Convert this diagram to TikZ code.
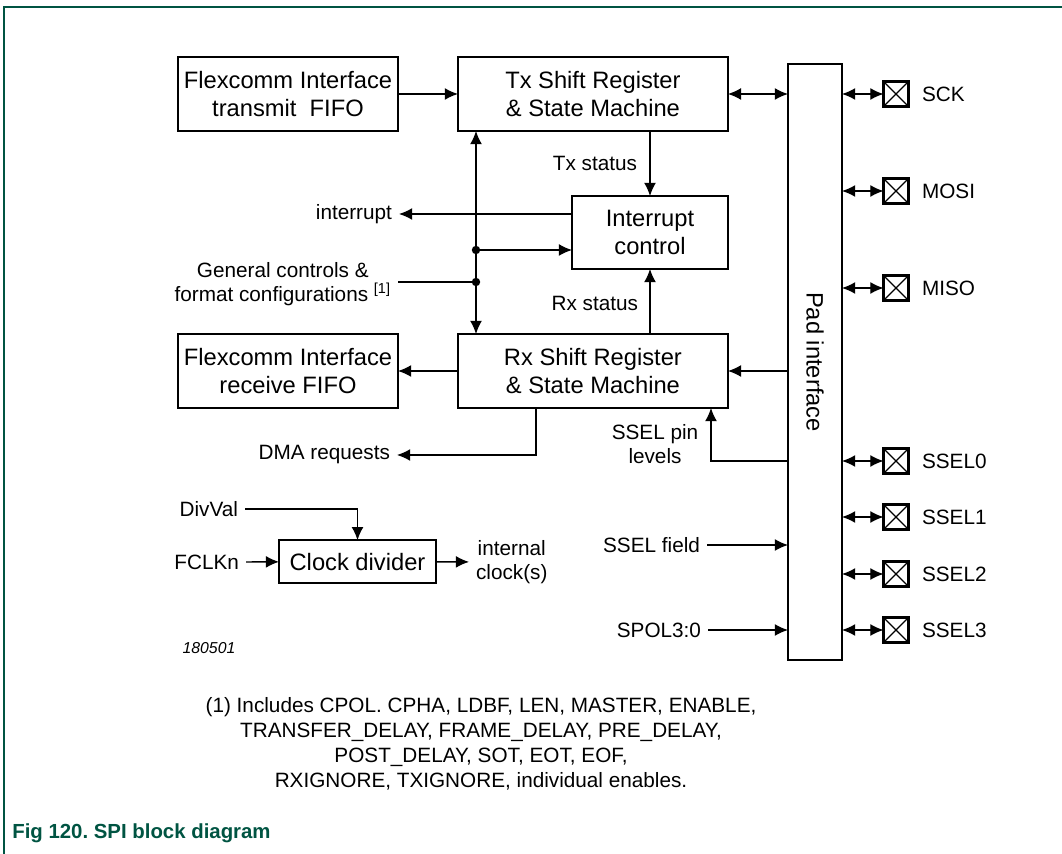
\documentclass[tikz,border=0pt]{standalone}
\usepackage{fontspec}
\setmainfont{Liberation Sans}
\usepackage{tikz}
\usetikzlibrary{positioning,arrows.meta}
\usepackage{xcolor}
\definecolor{FigGreen}{RGB}{0,84,66}
\newcommand{\boxfont}{\fontsize{13.5}{16}\selectfont}
\newcommand{\lblfont}{\fontsize{11.8}{13.4}\selectfont}
\frenchspacing

\begin{document}
\begin{tikzpicture}[
  x=0.02cm, y=-0.02cm,
  every node/.style={font=\lblfont},
  blockbox/.style={draw, line width=0.9pt, align=center, inner sep=0pt, outer sep=0pt, minimum height=1.48cm, font=\boxfont},
  lbl/.style={inner sep=0pt, outer sep=4pt},
  pinbox/.style={draw, line width=1.3pt, minimum size=0.5cm, inner sep=0pt, outer sep=0pt,
    path picture={\draw[line width=0.7pt] (path picture bounding box.north west) -- (path picture bounding box.south east)
      (path picture bounding box.north east) -- (path picture bounding box.south west);}},
  wire/.style={line width=0.75pt},
  arr/.style={-{Latex[length=7.5pt,width=6.8pt]}, line width=0.75pt},
  dblarr/.style={{Latex[length=7.5pt,width=6.8pt]}-{Latex[length=7.5pt,width=6.8pt]}, line width=0.75pt}
]
\useasboundingbox (0,0) rectangle (1062,854);

% Frame
\draw[FigGreen, line width=1pt] (1062,7) -- (4,7) -- (4,854);

% Transmit path
\node[blockbox, minimum width=4.4cm] (txfifo) at (288,94) {Flexcomm Interface\\transmit\ \ FIFO};
\node[blockbox, minimum width=5.4cm, right=1.2cm of txfifo] (txsr) {Tx Shift Register\\\& State Machine};

% Receive path
\node[blockbox, minimum width=4.4cm] (rxfifo) at (288,371) {Flexcomm Interface\\receive FIFO};
\node[blockbox, minimum width=5.4cm, right=1.2cm of rxfifo] (rxsr) {Rx Shift Register\\\& State Machine};

% Interrupt control
\node[blockbox, minimum width=3.12cm, minimum height=1.46cm] (intctl) at (650,232.5) {Interrupt\\control};

% Pad interface
\node[draw, line width=0.9pt, minimum width=1.08cm, minimum height=11.92cm, inner sep=0pt, outer sep=0pt] (pad) at (815,362) {};
\node[rotate=-90, font=\boxfont] (padlbl) at (pad.center) {Pad interface};

% Pins
\foreach \pname/\py in {SCK/94, MOSI/191, MISO/288, SSEL0/461, SSEL1/517, SSEL2/574, SSEL3/630} {
  \node[pinbox] (pin\pname) at (896,\py) {};
  \node[lbl, anchor=west] (lbl\pname) at (915,\py) {\pname};
  \draw[dblarr] (pad.east |- pin\pname) -- (pin\pname.west);
}

% Clock divider
\node[blockbox, minimum width=3.14cm, minimum height=0.86cm] (clkdiv) at (357.5,561.7) {Clock divider};

% Side labels
\node[lbl, anchor=east] (txstat) at (644,163) {Tx status};
\node[lbl, anchor=east] (rxstat) at (645,303) {Rx status};
\node[lbl, anchor=east] (intlbl) at (399,214) {interrupt};
\node[lbl, anchor=east, align=center] (genlbl) at (398,284) {General controls \&\\format configurations \textsuperscript{[1]}};
\node[lbl, anchor=east] (dmalbl) at (397,455) {DMA requests};
\node[lbl, align=center] (sellbl) at (655,444) {SSEL pin\\levels};
\node[lbl, anchor=east] (sselfld) at (707,545) {SSEL field};
\node[lbl, anchor=east] (spol) at (708,630) {SPOL3:0};
\node[lbl, anchor=east] (divval) at (245,509) {DivVal};
\node[lbl, anchor=east] (fclk) at (246,562) {FCLKn};
\node[lbl, anchor=west, align=center] (intclk) at (469,562) {internal\\clock(s)};
\node[font=\fontsize{9}{11}\selectfont\itshape] (figid) at (209,648) {180501};

% Junctions
\coordinate (jint) at (476,250);
\coordinate (jgen) at (476,282);
\coordinate (dmatap) at (536,408);
\coordinate (ssellev) at (711,461);

% Connectors
\draw[arr] (txfifo) -- (txsr);
\draw[dblarr] (txsr.east) -- (txsr.east -| pad.west);
\draw[dblarr] (txsr.south -| jint) -- (rxsr.north -| jint);
\draw[arr] (txsr.south -| intctl) -- (intctl);
\draw[arr] (rxsr.north -| intctl) -- (intctl);
\draw[arr] (intctl.west |- intlbl) -- (intlbl);
\draw[arr] (jint) -- (jint -| intctl.west);
\draw[wire] (genlbl.east |- jgen) -- (jgen);
\fill (jint) circle[radius=2.4pt];
\fill (jgen) circle[radius=2.4pt];
\draw[arr] (rxsr) -- (rxfifo);
\draw[arr] (rxsr.east -| pad.west) -- (rxsr.east);
\draw[arr] (ssellev -| pad.west) -- (ssellev) -- (ssellev |- rxsr.south);
\draw[arr] (dmatap) |- (dmalbl);
\draw[arr] (sselfld) -- (sselfld -| pad.west);
\draw[arr] (spol) -- (spol -| pad.west);
\draw[arr] (fclk) -- (clkdiv);
\draw[arr] (divval) -| (clkdiv);
\draw[arr] (clkdiv) -- (intclk);

% Footnote and caption
\node[align=center, font=\fontsize{11.8}{14.2}\selectfont] (fnote) at (481,744) {(1) Includes CPOL. CPHA, LDBF, LEN, MASTER, ENABLE,\\TRANSFER\_DELAY, FRAME\_DELAY, PRE\_DELAY,\\POST\_DELAY, SOT, EOT, EOF,\\RXIGNORE, TXIGNORE, individual enables.};
\node[anchor=west, inner sep=0pt, text=FigGreen, font=\fontsize{11.6}{14}\selectfont\bfseries] (caption) at (12,833) {Fig 120. SPI block diagram};
\end{tikzpicture}
\end{document}
